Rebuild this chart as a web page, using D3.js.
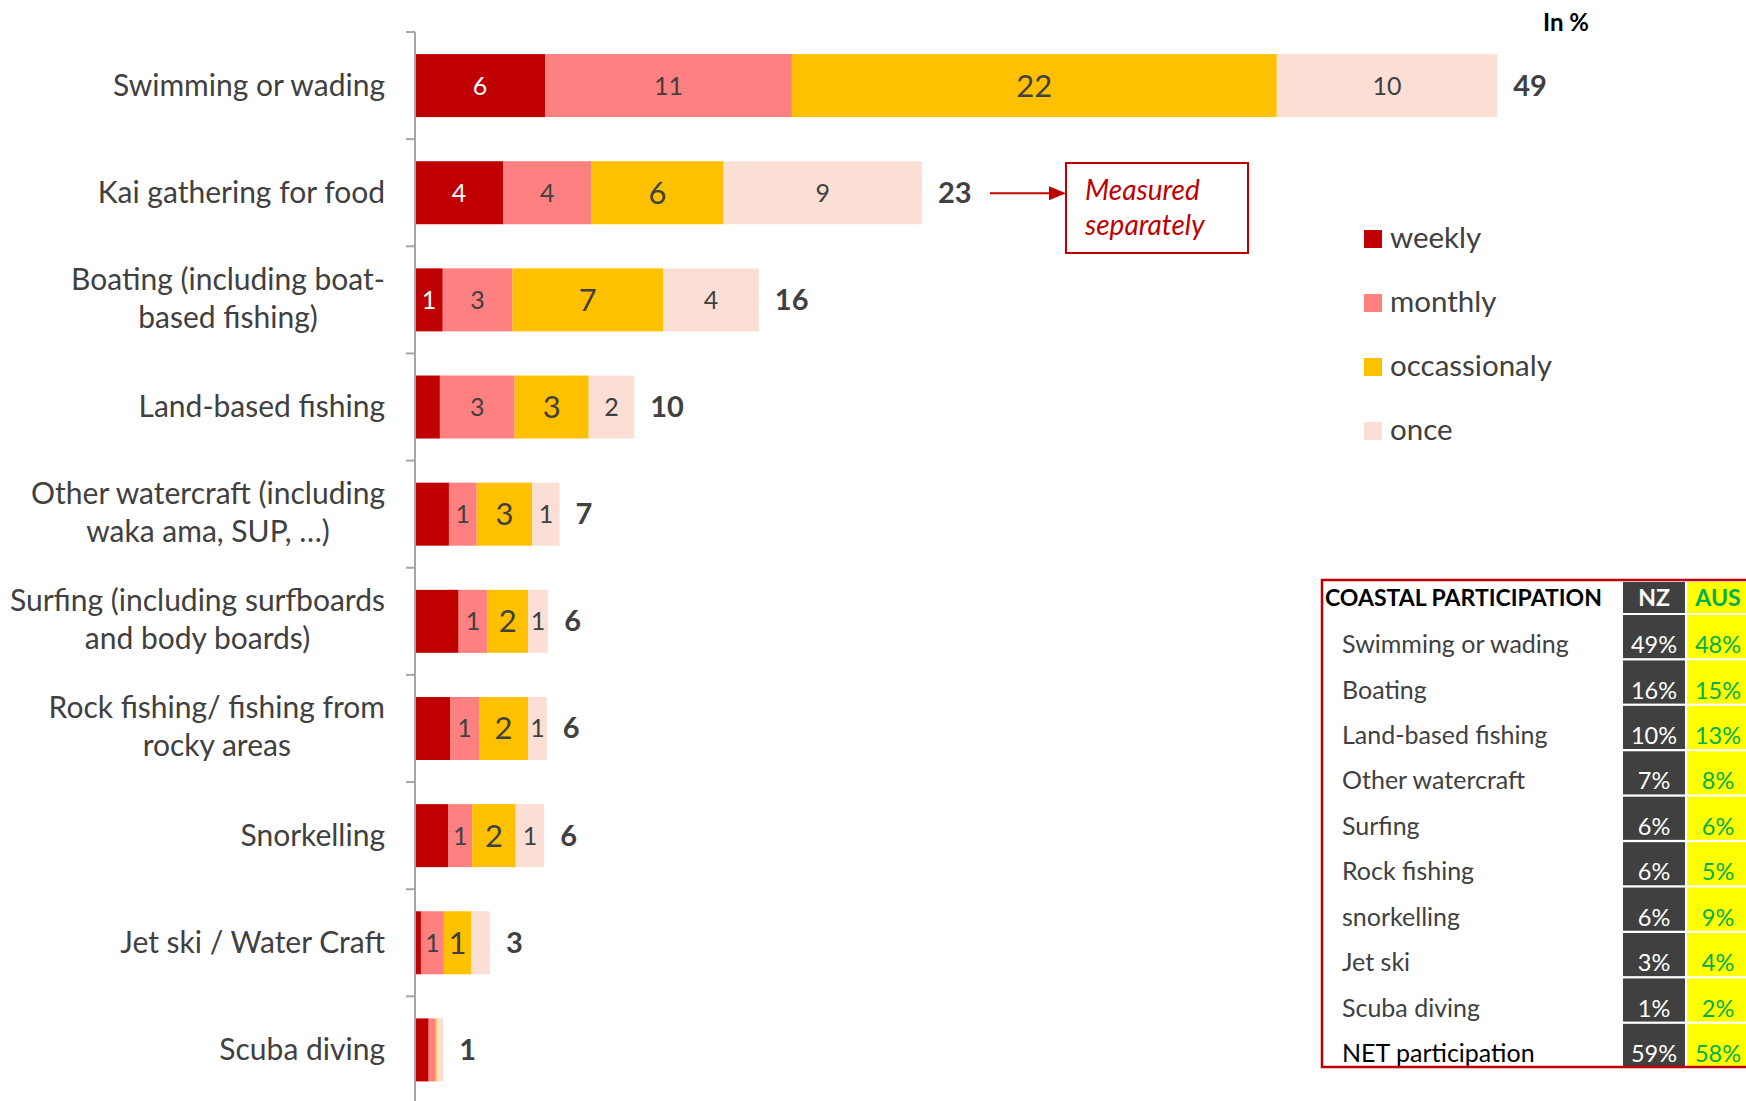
<!DOCTYPE html>
<html>
<head>
<meta charset="utf-8">
<script src="https://cdn.jsdelivr.net/npm/d3@7"></script>
<style>
  body { margin: 0; background: #fff; }
  svg { display: block; }
  text { font-family: Lato, "Open Sans", sans-serif; }
</style>
</head>
<body>
<div id="chart"></div>
<script>
// bar chart data (in %)
var categories = [
    ["Swimming or wading"],
    ["Kai gathering for food"],
    ["Boating (including boat-", "based fishing)"],
    ["Land-based fishing"],
    ["Other watercraft (including", "waka ama, SUP, …)"],
    ["Surfing (including surfboards", "and body boards)"],
    ["Rock fishing/ fishing from", "rocky areas"],
    ["Snorkelling"],
    ["Jet ski / Water Craft"],
    ["Scuba diving"]
];
var seriesNames = ["weekly", "monthly", "occassionaly", "once"];
var seriesColors = ["#c00000", "#ff8080", "#ffc000", "#fbdfd4"];

var weekly       = [5.9, 4.0, 1.26, 1.13, 1.54, 1.98, 1.59, 1.5, 0.27, 0.62];
var monthly      = [11.2, 4.0, 3.16, 3.39, 1.26, 1.3, 1.32, 1.1, 1.04, 0.29];
var occassionaly = [22.0, 6.0, 6.84, 3.36, 2.52, 1.85, 2.22, 1.97, 1.24, 0.08];
var once         = [10.0, 9.0, 4.34, 2.07, 1.24, 0.91, 0.85, 1.29, 0.85, 0.29];

// printed labels (some were left out in the original)
var weeklyLabels  = ["6", "4", "1", "", "", "", "", "", "", ""];
var monthlyLabels = ["11", "4", "3", "3", "1", "1", "1", "1", "1", ""];
var occLabels     = ["22", "6", "7", "3", "3", "2", "2", "2", "1", ""];
var onceLabels    = ["10", "9", "4", "2", "1", "1", "1", "1", "", ""];
var totals        = ["49", "23", "16", "10", "7", "6", "6", "6", "3", "1"];

// side table
var tableRows = ["Swimming or wading", "Boating", "Land-based fishing", "Other watercraft",
    "Surfing", "Rock fishing", "snorkelling", "Jet ski", "Scuba diving", "NET participation"];
var nzValues  = ["49%", "16%", "10%", "7%", "6%", "6%", "6%", "3%", "1%", "59%"];
var ausValues = ["48%", "15%", "13%", "8%", "6%", "5%", "9%", "4%", "2%", "58%"];

var W = 1746, H = 1101;
var textCol = "#404040";

var svg = d3.select("#chart").append("svg")
    .attr("width", W)
    .attr("height", H);

var x = d3.scaleLinear().domain([0, 49]).range([415, 1495]);
var y = d3.scaleBand()
    .domain(d3.range(categories.length))
    .range([32, 1103.5])
    .paddingInner(0.412)
    .paddingOuter(0.206);

var rows = categories.map(function (c, i) {
    return { i: i, weekly: weekly[i], monthly: monthly[i], occassionaly: occassionaly[i], once: once[i] };
});
var labelSets = [weeklyLabels, monthlyLabels, occLabels, onceLabels];
var stacked = d3.stack().keys(seriesNames)(rows);

// bars
var layers = svg.append("g").selectAll("g")
    .data(stacked)
    .enter().append("g")
    .attr("fill", function (d, k) { return seriesColors[k]; });

layers.selectAll("rect")
    .data(function (d) { return d; })
    .enter().append("rect")
    .attr("x", function (d) { return x(d[0]); })
    .attr("y", function (d) { return y(d.data.i); })
    .attr("width", function (d) { return x(d[1]) - x(d[0]); })
    .attr("height", y.bandwidth());

// segment labels
stacked.forEach(function (layer, k) {
    svg.append("g").selectAll("text")
        .data(layer)
        .enter().append("text")
        .attr("x", function (d) { return (x(d[0]) + x(d[1])) / 2; })
        .attr("y", function (d) { return y(d.data.i) + y.bandwidth() / 2 + (k == 2 ? 11 : 9); })
        .attr("text-anchor", "middle")
        .attr("font-size", k == 2 ? 31 : 25)
        .attr("fill", k == 0 ? "#fff" : textCol)
        .text(function (d) { return labelSets[k][d.data.i]; });
});

// totals
svg.append("g").selectAll("text")
    .data(stacked[3])
    .enter().append("text")
    .attr("x", function (d) { return x(d[1]) + 16; })
    .attr("y", function (d) { return y(d.data.i) + y.bandwidth() / 2 + 10; })
    .attr("font-size", 29)
    .attr("font-weight", "bold")
    .attr("fill", textCol)
    .text(function (d) { return totals[d.data.i]; });

// category axis
var step = y.step(), gap = step * y.paddingInner() / 2;
var bounds = d3.range(categories.length).map(function (i) { return y(i) - gap; });
bounds.push(y(categories.length - 1) + y.bandwidth() + gap);

var axis = svg.append("g").attr("stroke", "#a6a6a6").attr("stroke-width", 2);
axis.append("line")
    .attr("x1", x(0)).attr("x2", x(0))
    .attr("y1", bounds[0]).attr("y2", H);
axis.selectAll(".tick")
    .data(bounds)
    .enter().append("line")
    .attr("x1", x(0) - 9).attr("x2", x(0))
    .attr("y1", function (d) { return d; })
    .attr("y2", function (d) { return d; });

var catG = svg.append("g")
    .attr("font-size", 30)
    .attr("fill", textCol);
categories.forEach(function (lines, i) {
    var cy = y(i) + y.bandwidth() / 2;
    if (lines.length == 1) {
        catG.append("text")
            .attr("x", 385)
            .attr("y", cy + 10)
            .attr("text-anchor", "end")
            .text(lines[0]);
    } else {
        var t = catG.append("text").attr("text-anchor", "middle");
        var spans = lines.map(function (l, j) {
            return t.append("tspan")
                .attr("y", cy + 9 + (j == 0 ? -19 : 19))
                .text(l);
        });
        var wmax = d3.max(spans, function (s) { return s.node().getComputedTextLength(); });
        spans.forEach(function (s) { s.attr("x", 385 - wmax / 2); });
    }
});

// "In %"
svg.append("text")
    .attr("x", 1589).attr("y", 31)
    .attr("text-anchor", "end")
    .attr("font-size", 24)
    .attr("font-weight", "bold")
    .attr("fill", "#000")
    .text("In %");

// legend
var ly = d3.scaleLinear().domain([0, 3]).range([239, 431]);
var legend = svg.append("g").selectAll("g")
    .data(seriesNames)
    .enter().append("g")
    .attr("transform", function (d, k) { return "translate(1364," + ly(k) + ")"; });
legend.append("rect")
    .attr("x", 0).attr("y", -9)
    .attr("width", 18).attr("height", 18)
    .attr("fill", function (d, k) { return seriesColors[k]; });
legend.append("text")
    .attr("x", 26).attr("y", 9)
    .attr("font-size", 29.5)
    .attr("fill", textCol)
    .text(function (d) { return d; });

// "Measured separately" callout
var red = "#c00000";
var ky = y(1) + y.bandwidth() / 2 + 0.5;
svg.append("line")
    .attr("x1", 990).attr("x2", 1052)
    .attr("y1", ky).attr("y2", ky)
    .attr("stroke", red).attr("stroke-width", 2);
svg.append("path")
    .attr("d", "M1049," + (ky - 7) + "L1066," + ky + "L1049," + (ky + 7) + "Z")
    .attr("fill", red);
svg.append("rect")
    .attr("x", 1066).attr("y", 163)
    .attr("width", 182).attr("height", 90)
    .attr("fill", "none")
    .attr("stroke", red).attr("stroke-width", 2);
svg.append("text")
    .attr("font-size", 28)
    .attr("font-style", "italic")
    .attr("fill", red)
    .selectAll("tspan")
    .data(["Measured", "separately"])
    .enter().append("tspan")
    .attr("x", 1085)
    .attr("y", function (d, j) { return 200 + j * 35; })
    .text(function (d) { return d; });

// table
var tbl = svg.append("g");
var ty = d3.scaleBand().domain(d3.range(tableRows.length)).range([615, 1067]).paddingInner(0.05);
var nzX = 1623, nzW = 62, auX = 1687, auW = 62;

tbl.append("rect").attr("x", nzX).attr("y", 582).attr("width", nzW).attr("height", 31).attr("fill", "#404040");
tbl.append("rect").attr("x", auX).attr("y", 582).attr("width", auW).attr("height", 31).attr("fill", "#ffff00");
tbl.selectAll(".nz")
    .data(nzValues).enter().append("rect")
    .attr("x", nzX).attr("y", function (d, i) { return ty(i); })
    .attr("width", nzW).attr("height", ty.bandwidth())
    .attr("fill", "#404040");
tbl.selectAll(".au")
    .data(ausValues).enter().append("rect")
    .attr("x", auX).attr("y", function (d, i) { return ty(i); })
    .attr("width", auW).attr("height", ty.bandwidth())
    .attr("fill", "#ffff00");

tbl.append("text")
    .attr("x", 1325).attr("y", 606)
    .attr("font-size", 23).attr("font-weight", "bold").attr("fill", "#000")
    .text("COASTAL PARTICIPATION");
tbl.append("text")
    .attr("x", nzX + nzW / 2).attr("y", 606).attr("text-anchor", "middle")
    .attr("font-size", 23).attr("font-weight", "bold").attr("fill", "#fff")
    .text("NZ");
tbl.append("text")
    .attr("x", auX + auW / 2).attr("y", 606).attr("text-anchor", "middle")
    .attr("font-size", 23).attr("font-weight", "bold").attr("fill", "#00b050")
    .text("AUS");

function rowBase(i) { return ty(i) + ty.bandwidth() - 5; }
tbl.selectAll(".rl")
    .data(tableRows).enter().append("text")
    .attr("x", 1342).attr("y", function (d, i) { return rowBase(i); })
    .attr("font-size", 25)
    .attr("fill", function (d, i) { return i == tableRows.length - 1 ? "#000" : textCol; })
    .text(function (d) { return d; });
tbl.selectAll(".nv")
    .data(nzValues).enter().append("text")
    .attr("x", nzX + nzW / 2).attr("y", function (d, i) { return rowBase(i); })
    .attr("text-anchor", "middle").attr("font-size", 23.5).attr("fill", "#fff")
    .text(function (d) { return d; });
tbl.selectAll(".av")
    .data(ausValues).enter().append("text")
    .attr("x", auX + auW / 2).attr("y", function (d, i) { return rowBase(i); })
    .attr("text-anchor", "middle").attr("font-size", 23.5).attr("fill", "#00b050")
    .text(function (d) { return d; });

tbl.append("rect")
    .attr("x", 1322).attr("y", 580)
    .attr("width", 440).attr("height", 487)
    .attr("fill", "none")
    .attr("stroke", red).attr("stroke-width", 2.5);
</script>
</body>
</html>
